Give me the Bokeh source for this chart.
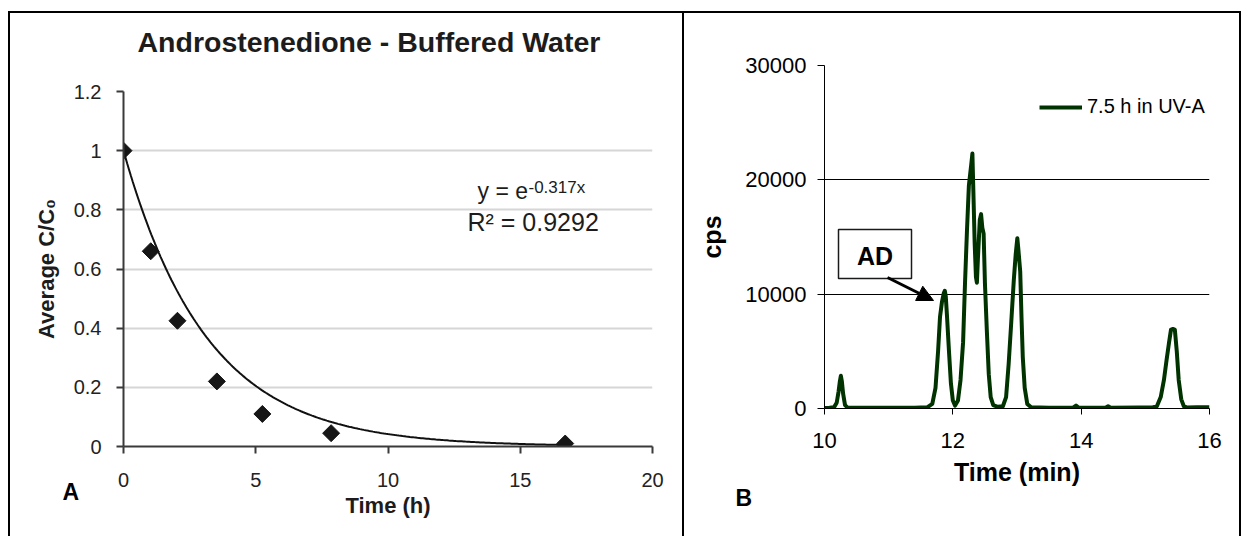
import numpy as np
from bokeh.plotting import figure
from bokeh.layouts import row
from bokeh.models import (Range1d, FixedTicker, Label, BoxAnnotation, Arrow,
                          NormalHead, Legend, LegendItem, Title)
from bokeh.embed import file_html
from bokeh.resources import INLINE

# ---------------- Panel A data ----------------
time_h = [0, 1.03, 2.04, 3.53, 5.25, 7.85, 16.7]
avg_c_c0 = [1.0, 0.66, 0.425, 0.22, 0.11, 0.045, 0.01]
fit_k = 0.317          # trend line y = e^(-0.317x) as printed on the chart
fit_r2 = "0.9292"
x_ticks_a = [0, 5, 10, 15, 20]
y_ticks_a = [0, 0.2, 0.4, 0.6, 0.8, 1, 1.2]
y_labels_a = ["0", "0.2", "0.4", "0.6", "0.8", "1", "1.2"]

# ---------------- Panel B data ----------------
rt_min = [10.00, 10.08, 10.15, 10.19, 10.22, 10.24, 10.255, 10.27, 10.29, 10.32,
          10.36, 10.50, 10.80, 11.10, 11.40, 11.60, 11.68, 11.73, 11.77, 11.80,
          11.83, 11.86, 11.875, 11.89, 11.91, 11.94, 11.97, 12.00, 12.035, 12.08,
          12.12, 12.16, 12.19, 12.22, 12.25, 12.27, 12.29, 12.305, 12.32, 12.34,
          12.36, 12.375, 12.39, 12.42, 12.44, 12.46, 12.48, 12.50, 12.53, 12.56,
          12.59, 12.63, 12.70, 12.78, 12.83, 12.87, 12.91, 12.95, 12.98, 13.005,
          13.02, 13.05, 13.07, 13.09, 13.12, 13.16, 13.22, 13.50, 13.88, 13.92,
          13.96, 14.38, 14.42, 14.46, 14.90, 15.10, 15.18, 15.24, 15.29, 15.33,
          15.37, 15.40, 15.43, 15.46, 15.49, 15.52, 15.56, 15.60, 15.65, 15.80,
          16.00]
cps = [50, 60, 120, 500, 1500, 2400, 2860, 2400, 1300, 300,
       80, 60, 70, 60, 70, 100, 400, 1800, 5000, 8000,
       9300, 10100, 10300, 9800, 8000, 5000, 2200, 700, 250, 700,
       2500, 5800, 11000, 15500, 19500, 20500, 21500, 22300, 19000, 14500,
       11500, 11000, 13000, 16500, 17000, 15800, 15300, 11000, 6800, 3000,
       1000, 300, 150, 200, 1000, 3900, 7500, 11200, 13500, 14900,
       14000, 12000, 8000, 4500, 1800, 400, 100, 70, 90, 250,
       80, 70, 200, 70, 80, 80, 200, 1000, 2500, 4200,
       5800, 6900, 6950, 6900, 5000, 2500, 800, 200, 80, 100,
       120]
series_name = "7.5 h in UV-A"
x_ticks_b = [10, 12, 14, 16]
y_ticks_b = [0, 10000, 20000, 30000]
y_labels_b = ["0", "10000", "20000", "30000"]

FONT = "Liberation Sans"

# ================= Panel A =================
A_W, A_H = 684, 536
A_L, A_R, A_T, A_B = 123, 32, 91, 90
pa = figure(width=A_W, height=A_H, x_range=Range1d(0, 20), y_range=Range1d(0, 1.2),
            title=None, output_backend="svg", toolbar_location=None,
            min_border_left=A_L, min_border_right=A_R,
            min_border_top=A_T, min_border_bottom=A_B)
pa.frame_align = False
pa.border_fill_color = None
pa.outline_line_color = None
pa.xgrid.visible = False
pa.ygrid.grid_line_color = "#d6d6d6"
pa.ygrid.grid_line_width = 2

# spacer (closest to the frame) + chart title above it
pa.add_layout(Title(text=" ", text_font_size="10px", standoff=21), "above")
pa.add_layout(Title(text="Androstenedione - Buffered Water", align="left", offset=14,
                    standoff=0, text_font=FONT, text_font_size="28.5px",
                    text_font_style="bold", text_color="#1c1c1c"), "above")

ax_col = "#3a3a3a"
for ax in (pa.xaxis[0], pa.yaxis[0]):
    ax.major_tick_in = 0
    ax.major_tick_out = 7
    ax.minor_tick_line_color = None
    ax.axis_line_color = ax_col
    ax.axis_line_width = 2
    ax.major_tick_line_color = ax_col
    ax.major_tick_line_width = 2
    ax.major_label_text_font = FONT
    ax.major_label_text_font_size = "20px"
    ax.major_label_text_color = "#222222"
    ax.axis_label_text_font = FONT
    ax.axis_label_text_font_size = "22px"
    ax.axis_label_text_font_style = "bold"
    ax.axis_label_text_color = "#1c1c1c"
pa.xaxis[0].ticker = FixedTicker(ticks=x_ticks_a)
pa.xaxis[0].major_label_standoff = 19
pa.xaxis[0].axis_label = "Time (h)"
pa.xaxis[0].axis_label_standoff = 3
pa.yaxis[0].ticker = FixedTicker(ticks=y_ticks_a)
pa.yaxis[0].major_label_overrides = {str(t): l for t, l in zip(y_ticks_a, y_labels_a)}
pa.yaxis[0].major_label_overrides.update({"0": "0", "1": "1"})
pa.yaxis[0].major_label_standoff = 15
pa.yaxis[0].axis_label = "Average C/C\u2080"
pa.yaxis[0].axis_label_standoff = 12

tt = np.linspace(0, time_h[-1], 240)
pa.line(tt, np.exp(-fit_k * tt), line_color="#111111", line_width=2)
pa.scatter(time_h, avg_c_c0, marker="square", size=12, angle=np.pi / 4,
           fill_color="#161616", line_color="#161616")

def lab_a(X, Y, text, size, bold=False, align="left", baseline="alphabetic", color="#1c1c1c"):
    pa.add_layout(Label(x=X - A_L, y=(A_H - A_B) - Y, x_units="screen", y_units="screen",
                        text=text, text_font=FONT, text_font_size=f"{size}px",
                        text_font_style="bold" if bold else "normal",
                        text_align=align, text_baseline=baseline, text_color=color))

lab_a(477, 190, "y = e", 23)
lab_a(528, 187, f"-{fit_k}x", 17)
lab_a(467, 221, f"R\u00b2 = {fit_r2}", 25)

pa.add_layout(Title(text="A", align="left", offset=-61, standoff=-83, vertical_align="top",
                    text_font=FONT, text_font_size="23px", text_font_style="bold",
                    text_color="black"), "below")

# ================= Panel B =================
B_W, B_H = 564, 536
B_L, B_R, B_T, B_B = 140, 39, 65, 128
pb = figure(width=B_W, height=B_H, x_range=Range1d(10, 16), y_range=Range1d(0, 30000),
            output_backend="svg", toolbar_location=None,
            min_border_left=B_L, min_border_right=B_R,
            min_border_top=B_T, min_border_bottom=B_B)
pb.frame_align = False
pb.border_fill_color = None
pb.outline_line_color = None
pb.xgrid.visible = False
pb.ygrid.grid_line_color = "#000000"
pb.ygrid.grid_line_width = 1

for ax in (pb.xaxis[0], pb.yaxis[0]):
    ax.major_tick_in = 0
    ax.major_tick_out = 6
    ax.minor_tick_line_color = None
    ax.axis_line_color = "black"
    ax.axis_line_width = 1
    ax.major_tick_line_color = "black"
    ax.major_tick_line_width = 1
    ax.major_label_text_font = FONT
    ax.major_label_text_font_size = "22px"
    ax.major_label_text_color = "black"
    ax.axis_label_text_font = FONT
    ax.axis_label_text_font_size = "25px"
    ax.axis_label_text_font_style = "bold"
    ax.axis_label_text_color = "black"
pb.xaxis[0].ticker = FixedTicker(ticks=x_ticks_b)
pb.xaxis[0].major_label_standoff = 18
pb.xaxis[0].axis_label = "Time (min)"
pb.xaxis[0].axis_label_standoff = 7
pb.yaxis[0].ticker = FixedTicker(ticks=y_ticks_b)
pb.yaxis[0].major_label_overrides = {str(t): l for t, l in zip(y_ticks_b, y_labels_b)}
pb.yaxis[0].major_tick_out = 7
pb.yaxis[0].major_label_standoff = 11
pb.yaxis[0].axis_label = "cps"
pb.yaxis[0].axis_label_standoff = 16

trace = pb.line(rt_min, cps, line_color="#003300", line_width=4, line_join="round")

legend = Legend(items=[LegendItem(label=series_name, renderers=[trace])],
                location=(215, 290), glyph_width=43, glyph_height=20,
                label_standoff=5, padding=0, margin=0, spacing=0,
                border_line_color=None, background_fill_alpha=0,
                label_text_font=FONT, label_text_font_size="20px",
                label_text_color="black")
pb.add_layout(legend)

bx_px = (B_W - B_L - B_R) / 6.0
by_px = (B_H - B_T - B_B) / 30000.0
B_FL = A_W + B_L
B_FB = B_H - B_B
def b_x(X): return 10 + (X - B_FL) / bx_px
def b_y(Y): return (B_FB - Y) / by_px

pb.add_layout(Title(text="B", align="left", offset=-89, standoff=-7, vertical_align="top",
                    text_font=FONT, text_font_size="23px", text_font_style="bold",
                    text_color="black"), "below")

# AD callout
pb.add_layout(BoxAnnotation(left=b_x(838), right=b_x(911), top=b_y(229), bottom=b_y(278),
                            fill_color="white", fill_alpha=1, line_color="#1a1a1a",
                            line_alpha=1, line_width=1.5))
pb.add_layout(Label(x=b_x(874.5), y=b_y(255), text="AD", text_font=FONT,
                    text_font_size="25px", text_font_style="bold", text_align="center",
                    text_baseline="alphabetic", text_color="black"))
pb.add_layout(Arrow(end=NormalHead(size=16, fill_color="black", line_color="black"),
                    x_start=b_x(887), y_start=b_y(277), x_end=b_x(933), y_end=b_y(300),
                    line_color="black", line_width=3))

# outer frame lines of the figure (page decoration)
frame_css = ", ".join([
    "linear-gradient(#000,#000) 8px 11px / 1233px 2px no-repeat",
    "linear-gradient(#000,#000) 8px 11px / 2px 525px no-repeat",
    "linear-gradient(#000,#000) 682px 11px / 2px 525px no-repeat",
    "linear-gradient(#000,#000) 1239px 11px / 2px 525px no-repeat",
])
layout = row(pa, pb, styles={"background": frame_css + ", #ffffff"})
open("out.html", "w").write(file_html(layout, INLINE))
